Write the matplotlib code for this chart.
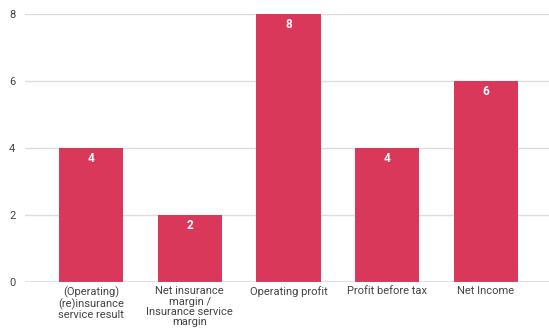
import matplotlib
matplotlib.use("Agg")
import matplotlib.pyplot as plt
import numpy as np

categories = [
    "(Operating)\n(re)insurance\nservice result",
    "Net insurance\nmargin /\nInsurance service\nmargin",
    "Operating profit",
    "Profit before tax",
    "Net Income",
]
values = [4, 2, 8, 4, 6]
yticks = [0, 2, 4, 6, 8]

plt.rcParams["font.family"] = ["Roboto", "DejaVu Sans"]

W, H = 549, 335
fig = plt.figure(figsize=(W / 100, H / 100), dpi=100)
ax = fig.add_axes([25 / W, (H - 282) / H, 1 - 25 / W, (282 - 14) / H])

x = np.arange(len(categories))
bars = ax.bar(x, values, width=0.65, color="#d9385a", zorder=3)

for b, v in zip(bars, values):
    ax.text(b.get_x() + b.get_width() / 2, v - 0.12, str(v), ha="center", va="top",
            color="white", fontsize=8.5, fontweight="bold", zorder=4)

ax.set_xlim(-0.67, 4.64)
ax.set_ylim(0, 8)
ax.set_yticks(yticks)
ax.set_yticklabels([str(t) for t in yticks])
ax.set_xticks(x)
ax.set_xticklabels(categories, fontsize=8, color="#444444", linespacing=1.05)
ax.tick_params(axis="y", labelsize=8, labelcolor="#444444", length=0, pad=7)
ax.tick_params(axis="x", length=0, pad=3)

ax.grid(axis="y", color="#dddddd", linewidth=1, zorder=0)
ax.axhline(0, color="#888888", linewidth=1, zorder=4)
for s in ax.spines.values():
    s.set_visible(False)

fig.savefig("out.png", dpi=100)
